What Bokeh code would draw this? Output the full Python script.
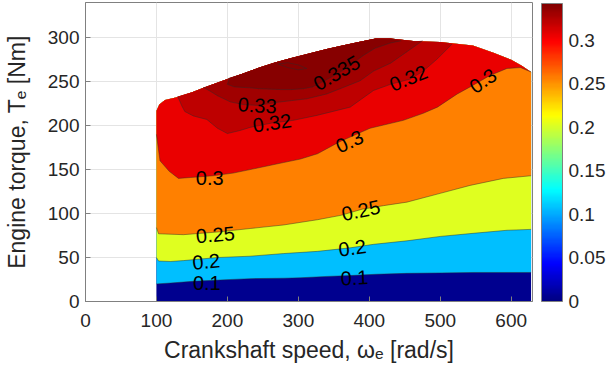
import numpy as np
from bokeh.plotting import figure
from bokeh.models import (LinearColorMapper, ColorBar, FixedTicker, Range1d)
from bokeh.embed import file_html
from bokeh.resources import INLINE
from bokeh.core.properties import value

# ---------------- data ----------------
# maximum-torque curve (outer boundary of the map)
max_speed = [100, 104, 112, 127, 150, 169, 200, 221, 245, 268, 290, 315, 340, 362,
             385, 409, 430, 465, 500, 546, 575, 600, 615, 628]
max_torque = [217, 224, 229, 232, 238, 244, 253, 259, 266, 272, 277, 282, 287, 291,
              295, 299, 299, 296, 295, 291, 283, 275, 268, 261]

# iso-efficiency contour lines (speed [rad/s], torque [Nm])
eff010_speed = [100, 120, 152, 190, 232, 280, 303, 340, 373, 410, 453, 500, 546, 590, 628]
eff010_torque = [20, 21, 23, 24.5, 26, 26.5, 27, 28.5, 29.5, 31, 32, 32.5, 33, 33, 33]

eff020_speed = [100, 103, 120, 138, 186, 232, 279, 327, 373, 406, 453, 500, 546, 594, 628]
eff020_torque = [50, 46, 45.5, 46.5, 50, 51.5, 54.5, 57, 61, 65, 69, 74, 77.5, 81, 82]

eff025_speed = [100, 103, 138, 186, 232, 279, 327, 360, 390, 420, 453, 500, 542, 589, 628]
eff025_torque = [84, 77, 76, 79, 83, 87, 93, 98, 105, 109, 113, 123, 132, 140, 143]

eff030_speed = [100, 105, 118, 131, 148, 180, 208, 232, 279, 303, 327, 359, 373, 401,
                448, 476, 496, 524, 542, 570, 594, 613, 628]
eff030_torque = [190, 160, 148, 140, 141, 143, 146, 150, 158, 162, 168, 182, 187, 197,
                 206, 214, 221, 236, 244, 257, 265, 266, 261]

eff032_speed = [130, 136, 140, 152, 171, 186, 200, 218, 232, 263, 293, 326, 373, 406,
                430, 458, 476, 496, 517]
eff032_torque = [233, 222, 216, 211, 207, 197, 191, 194.5, 198, 203, 206, 211.6, 221, 240,
                 247, 253, 262, 276, 293]

eff033_speed = [166, 176, 186, 204, 222, 242, 270, 312, 340, 359, 387, 406, 430, 453, 475]
eff033_torque = [243.5, 239, 234, 227, 224, 223, 226.5, 230.5, 236, 242, 251, 262, 271, 284, 296.5]

eff0335_speed = [203, 200, 210, 232, 244, 275, 291, 307, 320, 337, 355, 373, 390, 408, 430, 445]
eff0335_torque = [254.5, 247, 244, 243, 242, 241, 241, 242, 244, 251, 259, 268, 279, 288, 294, 296.5]

# small closed island near the optimum
island_speed = [272, 285, 300, 312, 300, 285, 272]
island_torque = [270, 271.5, 269, 265, 263.5, 266, 270]

levels = [0.1, 0.2, 0.25, 0.3, 0.32, 0.33, 0.335]
level_speeds = [eff010_speed, eff020_speed, eff025_speed, eff030_speed,
                eff032_speed, eff033_speed, eff0335_speed]
level_torques = [eff010_torque, eff020_torque, eff025_torque, eff030_torque,
                 eff032_torque, eff033_torque, eff0335_torque]

# inline contour labels
label_text = ["0.1", "0.1", "0.2", "0.2", "0.25", "0.25", "0.3", "0.3", "0.3",
              "0.32", "0.32", "0.33", "0.335"]
label_speed = [171, 379, 170, 376, 183, 388, 175, 372, 560, 263, 455, 242, 354]
label_torque = [21, 27, 45.5, 61, 76, 103.5, 140, 182, 251, 203, 254, 223, 260]
label_angle = [0, 3, 5, 8, 5, 12, 0, 25, 35, 8, 22, -3, 30]

x_ticks = [0, 100, 200, 300, 400, 500, 600]
y_ticks = [0, 50, 100, 150, 200, 250, 300]
cbar_ticks = [0, 0.05, 0.1, 0.15, 0.2, 0.25, 0.3]
cbar_low, cbar_high = 0.0, 0.342

# ---------------- styles ----------------
base_color = "#00008F"
fill_colors = ["#00BFFF", "#DFFF20", "#FF8000", "#EA0000", "#BE0000", "#A00000", "#870000"]
FONT = "Liberation Sans"
TXT = "#262626"


def jet_palette(n=256):
    x = np.linspace(0, 1, n)
    r = np.clip(1.5 - np.abs(4 * x - 3), 0, 1)
    g = np.clip(1.5 - np.abs(4 * x - 2), 0, 1)
    b = np.clip(1.5 - np.abs(4 * x - 1), 0, 1)
    return ["#%02x%02x%02x" % (int(round(255 * a)), int(round(255 * bb)), int(round(255 * c)))
            for a, bb, c in zip(r, g, b)]


def region(ls, lt):
    """polygon above a contour line up to the maximum-torque curve"""
    xs, ys = list(ls), list(lt)
    s0, s1 = ls[0], ls[-1]
    for s, t in reversed(list(zip(max_speed, max_torque))):
        if s0 <= s <= s1:
            xs.append(s)
            ys.append(t)
    return xs, ys


p = figure(width=606, height=373, x_range=Range1d(0, 630), y_range=Range1d(0, 340),
           output_backend="svg", toolbar_location=None,
           min_border_left=85, min_border_right=74, min_border_top=2, min_border_bottom=72)
p.background_fill_color = "white"
p.border_fill_color = "white"
p.outline_line_color = "#808080"
p.outline_line_width = 1

# filled bands
p.patch([100] + max_speed + [628], [0] + max_torque + [0], fill_color=base_color, line_color=None)
for ls, lt, col in zip(level_speeds, level_torques, fill_colors):
    xs, ys = region(ls, lt)
    p.patch(xs, ys, fill_color=col, line_color=None)

# contour lines
for ls, lt in zip(level_speeds, level_torques):
    p.line(ls, lt, line_color="#2a2a2a", line_width=0.6, line_alpha=0.75)
p.line(island_speed, island_torque, line_color="#2a2a2a", line_width=0.6, line_alpha=0.75)

# contour labels
p.text(x=label_speed, y=label_torque, text=label_text, angle=label_angle, angle_units="deg",
       text_font=value(FONT), text_font_size="20px", text_align="center",
       text_baseline="middle", text_color="black")

xax = p.xaxis[0]
yax = p.yaxis[0]
for ax in (xax, yax):
    ax.axis_line_color = "#808080"
    ax.major_tick_line_color = "#808080"
    ax.major_tick_in = 5
    ax.major_tick_out = 0
    ax.minor_tick_line_color = None
    ax.major_label_text_font = FONT
    ax.major_label_text_font_size = "19px"
    ax.major_label_text_color = TXT
    ax.axis_label_text_font = FONT
    ax.axis_label_text_font_size = "23px"
    ax.axis_label_text_font_style = "normal"
    ax.axis_label_text_color = TXT
xax.ticker = FixedTicker(ticks=x_ticks)
yax.ticker = FixedTicker(ticks=y_ticks)
xax.axis_label = "Crankshaft speed, \u03c9\u2091 [rad/s]"
yax.axis_label = "Engine torque, T\u2091 [Nm]"
xax.major_label_standoff = 12
xax.axis_label_standoff = 7
yax.major_label_standoff = 6
yax.axis_label_standoff = 15

p.xgrid.ticker = FixedTicker(ticks=x_ticks)
p.ygrid.ticker = FixedTicker(ticks=y_ticks)
p.grid.grid_line_color = "#e4e4e4"
p.grid.grid_line_width = 1

# colour bar
mapper = LinearColorMapper(palette=jet_palette(256), low=cbar_low, high=cbar_high)
cb = ColorBar(color_mapper=mapper, location=(456, 0), width=21, height=298,
              padding=0, margin=0, ticker=FixedTicker(ticks=cbar_ticks),
              major_label_text_font=FONT, major_label_text_font_size="19px",
              major_label_text_color=TXT, label_standoff=6,
              major_tick_line_color=None, bar_line_color="#808080",
              border_line_color=None, background_fill_color=None)
p.add_layout(cb, "center")

open("out.html", "w").write(file_html(p, INLINE))
